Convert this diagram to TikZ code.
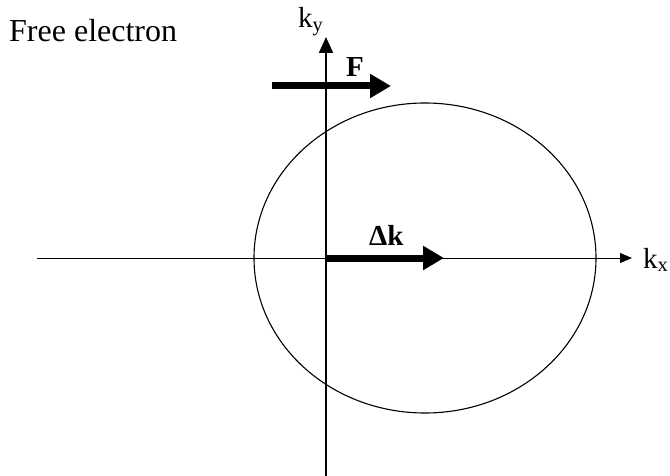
\documentclass[tikz,border=0pt]{standalone}
\usepackage{fontspec}
\setmainfont{Liberation Serif}
\usetikzlibrary{arrows.meta}
\begin{document}
\begin{tikzpicture}[x=1pt,y=-1pt,
  lbl/.style={inner sep=0pt,anchor=base west,font=\fontsize{29}{30}\selectfont},
  boldlbl/.style={inner sep=0pt,anchor=base west,font=\fontsize{29}{30}\selectfont\bfseries},
  axisy/.style={line width=2pt,-{Triangle[length=16pt,width=14pt]}},
  axisx/.style={line width=1pt,-{Triangle[length=12pt,width=10pt]}},
  bigarrow/.style={line width=7pt,-{Triangle[length=21pt,width=23pt]}}]
\useasboundingbox (0,0) rectangle (670,476);
\fill[white] (0,0) rectangle (670,476);
\coordinate (yb) at (326,476);
\coordinate (yt) at (326,37);
\coordinate (xl) at (37,258);
\coordinate (xr) at (632,258);
\coordinate (o) at (326,258);
\coordinate (dk) at (444,258);
\coordinate (fs) at (272,86);
\coordinate (fe) at (391,86);
\coordinate (c) at (425,258);
\draw[line width=1.1pt] (c) ellipse [x radius=171, y radius=155];
\draw[axisx] (xl) -- (xr);
\draw[axisy] (yb) -- (yt);
\draw[bigarrow] (o) -- (dk);
\draw[bigarrow] (fs) -- (fe);
\node[lbl,font=\fontsize{32}{34}\selectfont] (title) at (9,42) {Free electron};
\node[lbl] (ky) at (298,28) {k\textsubscript{y}};
\node[lbl] (kx) at (643,268) {k\textsubscript{x}};
\node[boldlbl] (F) at (346,77) {F};
\node[boldlbl] (dklbl) at (369,246) {Δk};
\end{tikzpicture}
\end{document}
